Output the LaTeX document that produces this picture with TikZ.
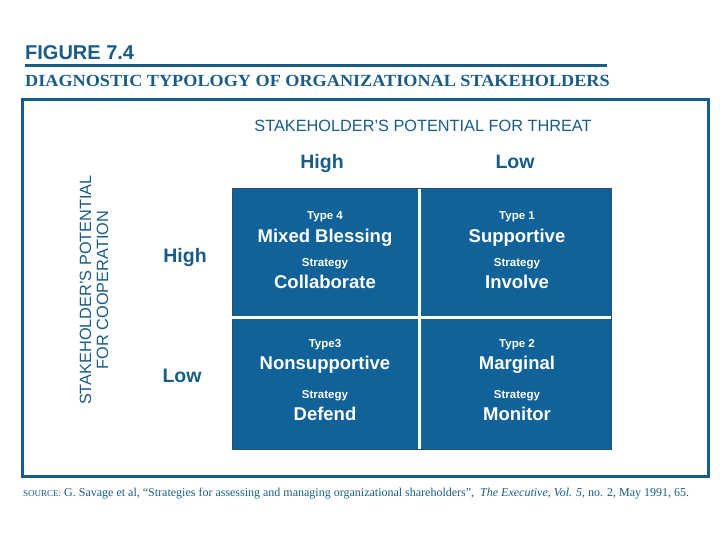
\documentclass[tikz,border=0pt]{standalone}
\usepackage{fontspec}
\setmainfont{Liberation Serif}
\setsansfont{Liberation Sans}
\definecolor{figblue}{RGB}{24,92,135}
\definecolor{cellblue}{RGB}{16,98,152}
\definecolor{celledge}{RGB}{40,80,110}
\tikzset{
  hdr/.style={font=\sffamily\bfseries\fontsize{19.5}{22}\selectfont, text=figblue, anchor=base, inner sep=0pt},
  small/.style={font=\sffamily\bfseries\fontsize{11.5}{13}\selectfont, text=white, anchor=base, inner sep=0pt},
  big/.style={font=\sffamily\bfseries\fontsize{18.5}{21}\selectfont, text=white, anchor=base, inner sep=0pt},
}
\begin{document}
\begin{tikzpicture}[x=1pt,y=-1pt]
\useasboundingbox (0,0) rectangle (720,540);
% title
\node[anchor=base west, inner sep=0pt, font=\sffamily\bfseries\fontsize{20}{22}\selectfont, text=figblue] (fig) at (25,60) {FIGURE 7.4};
\draw[figblue, line width=3pt] (25,66) -- (607,66);
\node[anchor=base west, inner sep=0pt, font=\rmfamily\bfseries\fontsize{17}{20}\selectfont, text=figblue] (sub) at (25,87) {\scalebox{1.07}[1]{DIAGNOSTIC TYPOLOGY OF ORGANIZATIONAL STAKEHOLDERS}};
% outer frame
\draw[figblue, line width=3pt] (22,100) rectangle (708,476);
\node[anchor=base, inner sep=0pt, font=\sffamily\fontsize{16.3}{18}\selectfont, text=figblue] (threat) at (423,132) {STAKEHOLDER'S POTENTIAL FOR THREAT};
\node[hdr] (th) at (322,169) {High};
\node[hdr] (tl) at (515,169) {Low};
\node[rotate=90, align=center, inner sep=0pt, font=\sffamily\fontsize{16.3}{17}\selectfont, text=figblue] (coop) at (94,290) {STAKEHOLDER'S POTENTIAL\\FOR COOPERATION};
\node[hdr] (lh) at (185,262) {High};
\node[hdr] (ll) at (182,382) {Low};
% grid
\draw[fill=cellblue, draw=celledge, line width=1pt] (232,189) rectangle (611,449);
\draw[white, line width=3pt] (419,189) -- (419,449);
\draw[white, line width=3pt] (232,317) -- (611,317);
% cell texts
\node[small] (t4) at (325,219) {Type 4};
\node[big] (mb) at (325,242) {Mixed Blessing};
\node[small] (s4) at (325,266) {Strategy};
\node[big] (co) at (325,288) {Collaborate};
\node[small] (t1) at (517,219) {Type 1};
\node[big] (su) at (517,242) {Supportive};
\node[small] (s1) at (517,266) {Strategy};
\node[big] (in) at (517,288) {Involve};
\node[small] (t3) at (325,347) {Type3};
\node[big] (ns) at (325,369) {Nonsupportive};
\node[small] (s3) at (325,398) {Strategy};
\node[big] (de) at (325,420) {Defend};
\node[small] (t2) at (517,347) {Type 2};
\node[big] (ma) at (517,369) {Marginal};
\node[small] (s2) at (517,398) {Strategy};
\node[big] (mo) at (517,420) {Monitor};
% source
\node[anchor=base west, inner sep=0pt, font=\rmfamily\fontsize{12}{14}\selectfont, text=figblue] (src) at (23,496) {{\fontsize{9}{10}\selectfont SOURCE:} G. Savage et al, “Strategies for assessing and managing organizational shareholders”,\ \ \textit{The Executive, Vol. 5,} no. 2, May 1991, 65.};
\end{tikzpicture}
\end{document}
